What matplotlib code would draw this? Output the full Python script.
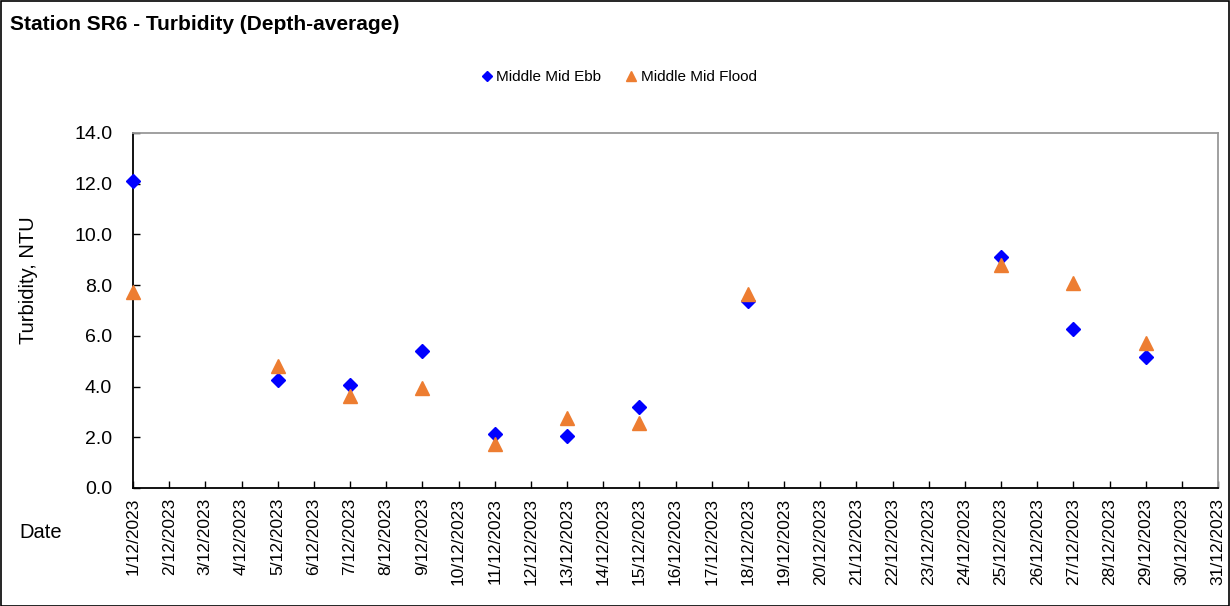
import matplotlib
matplotlib.use('Agg')
import matplotlib.pyplot as plt
from matplotlib.patches import Rectangle

plt.rcParams['font.family'] = ['Liberation Sans', 'DejaVu Sans']

# data (day of December 2023)
days = [1, 5, 7, 9, 11, 13, 15, 18, 25, 27, 29]
ebb = [12.1, 4.25, 4.05, 5.42, 2.12, 2.07, 3.18, 7.37, 9.1, 6.27, 5.16]
flood = [7.72, 4.8, 3.62, 3.93, 1.72, 2.75, 2.58, 7.65, 8.78, 8.08, 5.72]
tick_days = list(range(1, 32))
tick_labels = ['%d/12/2023' % d for d in tick_days]

fig = plt.figure(figsize=(12.3, 6.06), dpi=100)
ax = fig.add_axes([133/1230, 1 - 488/606, (1218 - 133)/1230, (488 - 133)/606])

ax.plot(days, ebb, linestyle='none', marker='D', markersize=7.5, color='#0000FF',
        label='Middle Mid Ebb', clip_on=False, zorder=3)
ax.plot(days, flood, linestyle='none', marker='^', markersize=9.5, color='#ED7D31',
        label='Middle Mid Flood', clip_on=False, zorder=3)

ax.set_xlim(1, 31)
ax.set_ylim(0, 14)
ax.set_yticks([0, 2, 4, 6, 8, 10, 12, 14])
ax.set_yticklabels(['%.1f' % v for v in [0, 2, 4, 6, 8, 10, 12, 14]], fontsize=14)
ax.set_xticks(tick_days)
ax.set_xticklabels(tick_labels, rotation=90, fontsize=12.5)
ax.tick_params(axis='both', direction='in', length=5, width=1, color='black')
ax.tick_params(axis='y', pad=15)
ax.tick_params(axis='x', pad=7)

for s in ['top', 'right']:
    ax.spines[s].set_color('#999999')
    ax.spines[s].set_linewidth(1.3)
for s in ['left', 'bottom']:
    ax.spines[s].set_color('black')
    ax.spines[s].set_linewidth(1.3)

fig.text(28/1230, 1 - 280/606, 'Turbidity, NTU', fontsize=14.5, rotation=90,
         ha='center', va='center')
fig.text(41/1230, 1 - 532/606, 'Date', fontsize=14.5, ha='center', va='center')
fig.text(10/1230, 1 - 24/606, 'Station SR6 - Turbidity (Depth-average)', fontsize=15,
         fontweight='bold', ha='left', va='center')

ax.legend(loc='center', bbox_to_anchor=(617/1230, 1 - 77/606), bbox_transform=fig.transFigure,
          ncol=2, frameon=False, fontsize=11, handletextpad=0.0, columnspacing=1.4,
          markerscale=0.7, handlelength=1.2)

fig.patches.append(Rectangle((0.5/1230, 0.5/606), 1 - 1.5/1230, 1 - 1.5/606,
                             transform=fig.transFigure, fill=False, edgecolor='black',
                             linewidth=1.2))

fig.savefig('out.png', dpi=100)
